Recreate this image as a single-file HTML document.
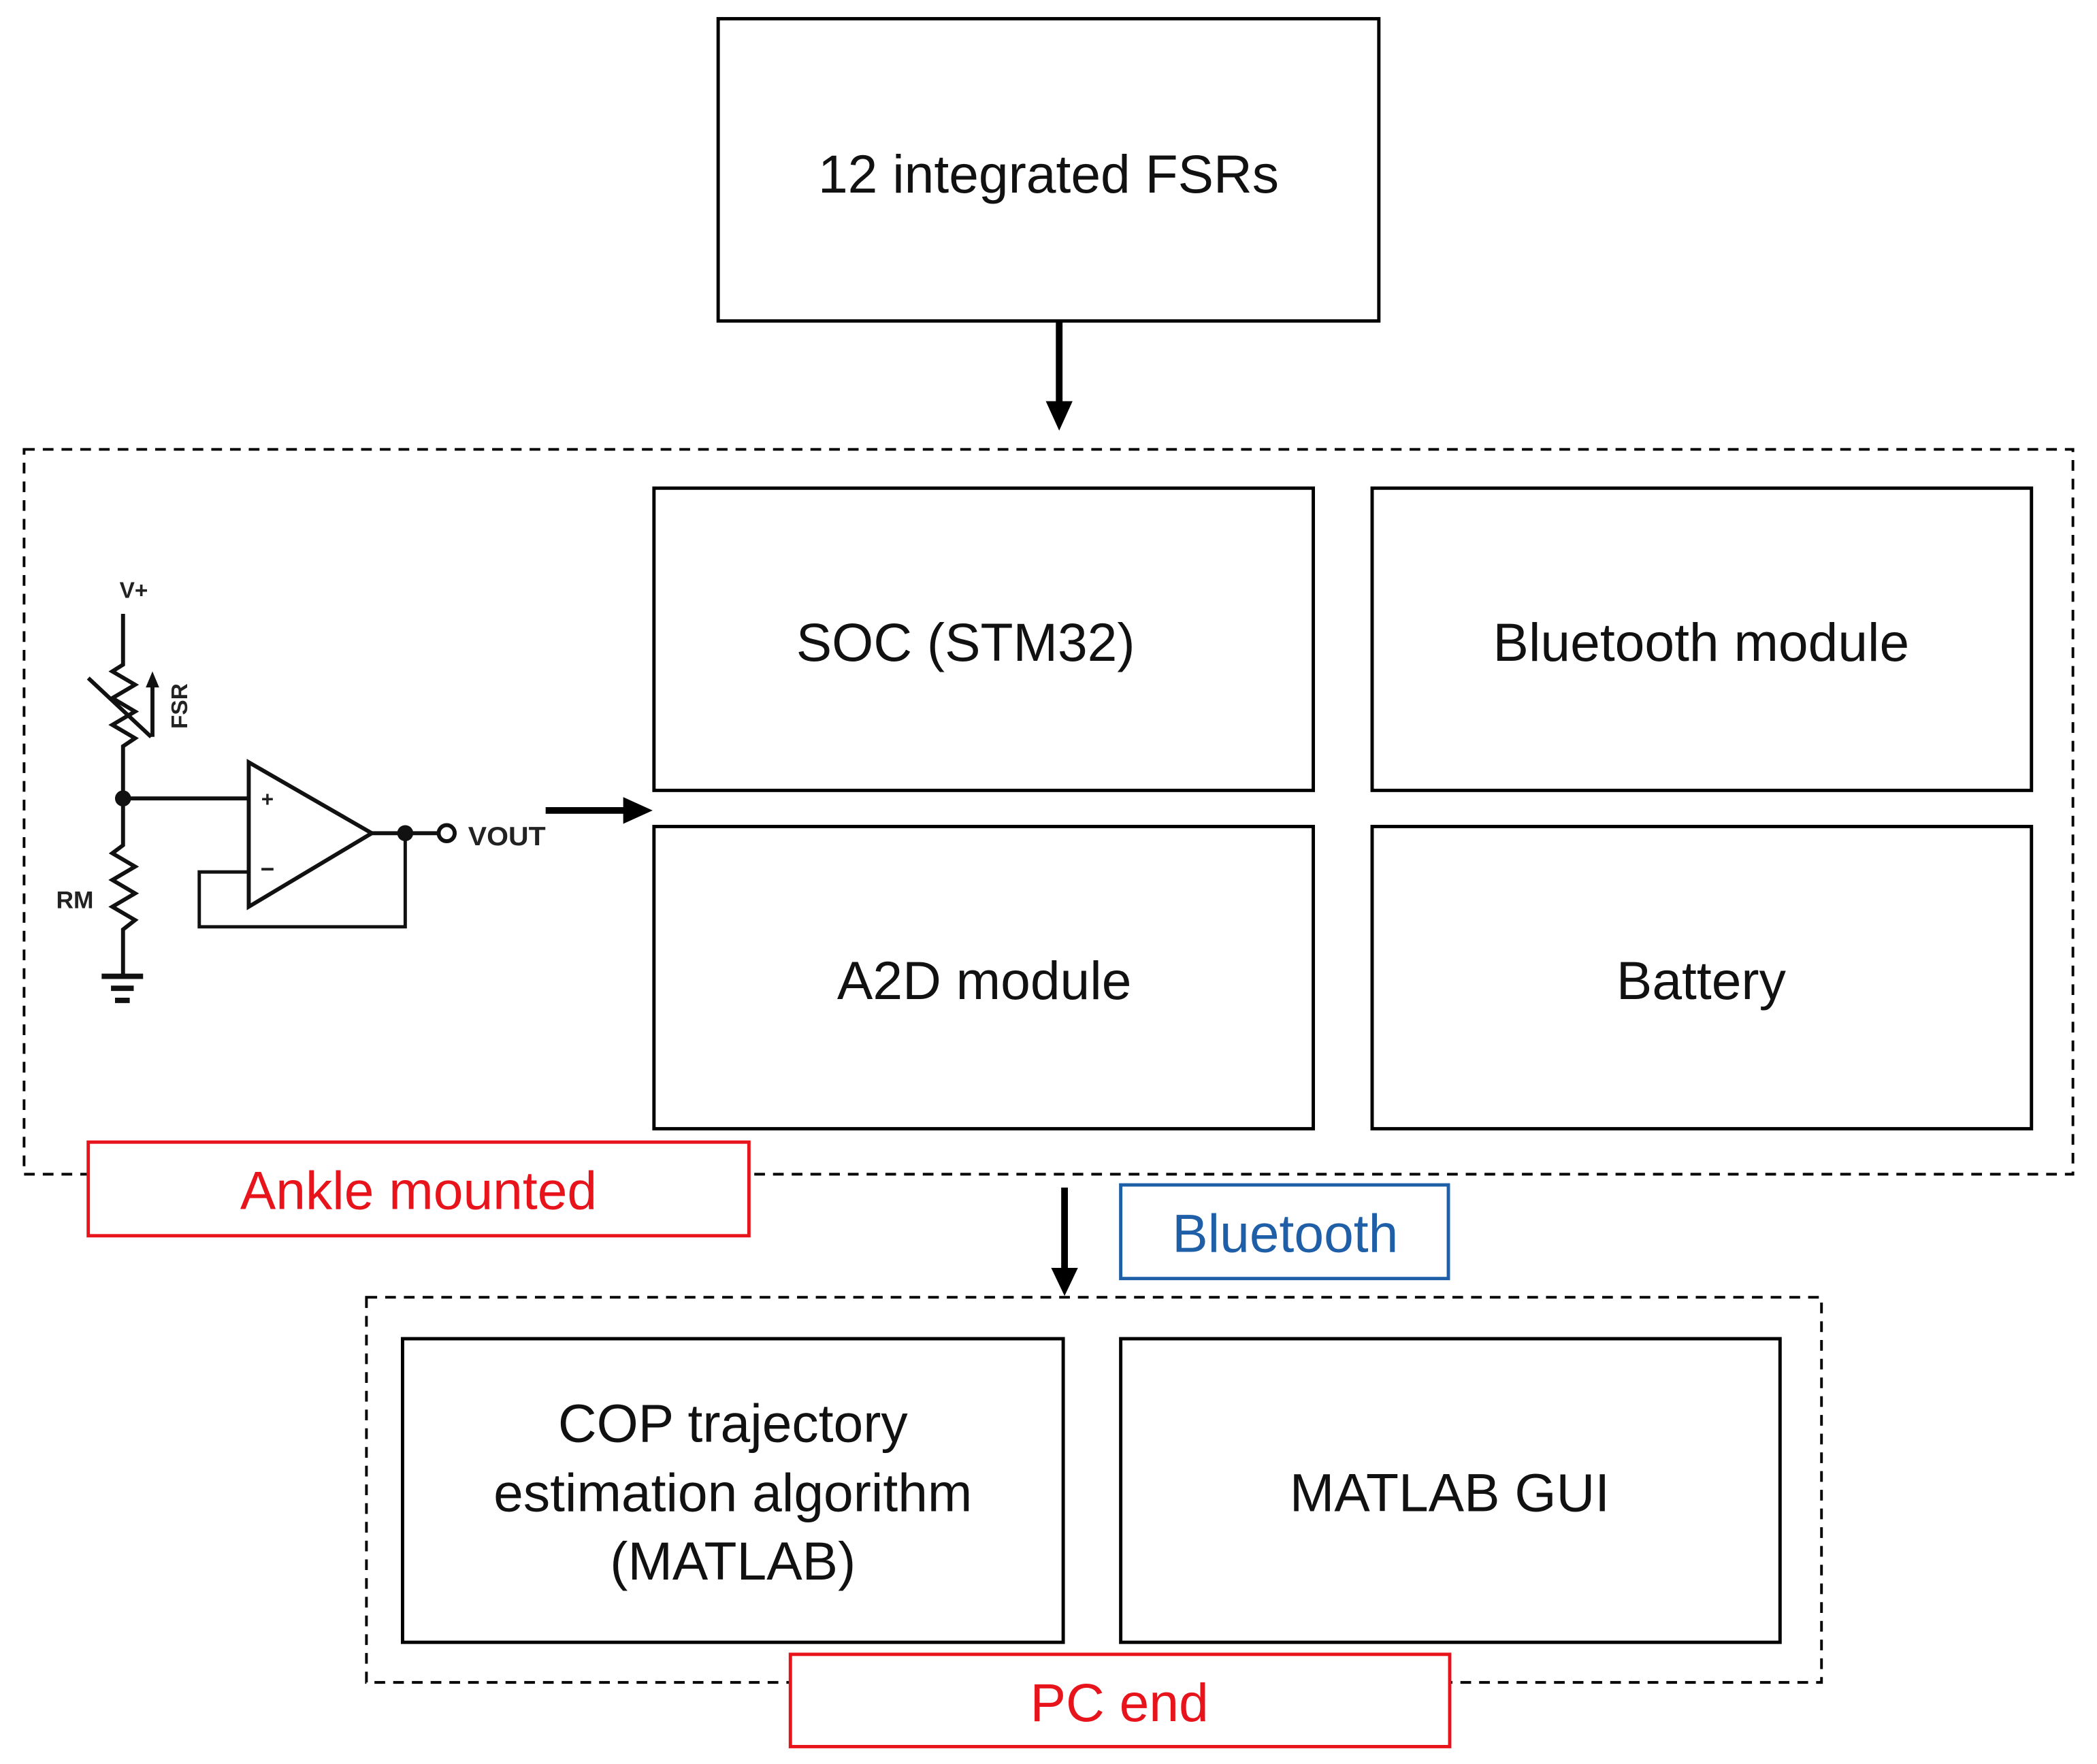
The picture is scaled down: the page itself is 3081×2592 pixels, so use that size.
<!DOCTYPE html>
<html><head><meta charset="utf-8"><style>
html,body{margin:0;padding:0;background:#fff;}
svg{display:block;}
text{font-family:"Liberation Sans","Noto Sans CJK SC",sans-serif;}
</style></head><body>
<svg width="3081" height="2592" viewBox="0 0 1568 1319" preserveAspectRatio="none" xmlns="http://www.w3.org/2000/svg">
<rect width="1568" height="1319" fill="#fff"/>
<g fill="none" stroke="#000" stroke-width="2.5">
<rect x="537" y="14" width="494" height="226"/>
<rect x="489" y="365" width="493" height="226"/>
<rect x="1026" y="365" width="493" height="226"/>
<rect x="489" y="618" width="493" height="226"/>
<rect x="1026" y="618" width="493" height="226"/>
<rect x="301" y="1001" width="494" height="227"/>
<rect x="838" y="1001" width="493" height="227"/>
</g>
<g fill="none" stroke="#000" stroke-width="2" stroke-dasharray="8 6">
<rect x="18" y="336" width="1532" height="542"/>
<rect x="274" y="970" width="1088" height="288"/>
</g>
<line x1="792" y1="240" x2="792" y2="302" stroke="#000" stroke-width="5"/>
<polygon points="782,300 802,300 792,322" fill="#000"/>
<line x1="796" y1="888" x2="796" y2="950" stroke="#000" stroke-width="5"/>
<polygon points="786,948 806,948 796,969" fill="#000"/>
<line x1="408" y1="606" x2="468" y2="606" stroke="#000" stroke-width="5"/>
<polygon points="466,596 466,616 488,606" fill="#000"/>
<rect x="66" y="854" width="494" height="70" fill="#fff" stroke="#e8141b" stroke-width="2.5"/>
<rect x="838" y="886" width="245" height="70" fill="#fff" stroke="#1f5fa8" stroke-width="2.5"/>
<rect x="591" y="1237" width="493" height="69" fill="#fff" stroke="#e8141b" stroke-width="2.5"/>
<g font-size="40" text-anchor="middle" fill="#111">
<text x="784" y="144">12 integrated FSRs</text>
<text x="722" y="494">SOC (STM32)</text>
<text x="1272" y="494">Bluetooth module</text>
<text x="736" y="747">A2D module</text>
<text x="1272" y="747">Battery</text>
<text x="548" y="1078">COP trajectory</text>
<text x="548" y="1130">estimation algorithm</text>
<text x="548" y="1181">(MATLAB)</text>
<text x="1084" y="1130">MATLAB GUI</text>
<text x="313" y="904" fill="#e8141b">Ankle mounted</text>
<text x="961" y="936" fill="#1f5fa8">Bluetooth</text>
<text x="837" y="1287" fill="#e8141b">PC end</text>
</g>
<g fill="none" stroke="#111" stroke-width="3" stroke-linejoin="miter">
<polyline points="92,459 92,497 84,502 101,512 84,522 101,532 84,542 101,552 92,558 92,632 84,638 101,648 84,658 101,668 84,678 101,688 92,695 92,730"/>
<line x1="76" y1="730" x2="107" y2="730" stroke-width="4"/>
<line x1="83" y1="739" x2="100" y2="739" stroke-width="4"/>
<line x1="86" y1="748" x2="97" y2="748" stroke-width="4"/>
<line x1="66" y1="507" x2="113" y2="551"/>
<line x1="114" y1="551" x2="114" y2="512"/>
<line x1="92" y1="597" x2="186" y2="597"/>
<polygon points="186,570 186,678 278,623"/>
<line x1="278" y1="623" x2="328" y2="623"/>
<polyline points="303,623 303,693 149,693 149,652 186,652" stroke-width="2.5"/>
<circle cx="334" cy="623" r="6"/>
</g>
<polygon points="109,514 119,514 114,502" fill="#111"/>
<circle cx="92" cy="597" r="6" fill="#111"/>
<circle cx="303" cy="623" r="6" fill="#111"/>
<g font-weight="bold" fill="#222">
<text x="100" y="447" font-size="17" text-anchor="middle">V+</text>
<text x="200" y="603" font-size="16" text-anchor="middle">+</text>
<text x="200" y="656" font-size="18" text-anchor="middle">−</text>
<text x="379" y="632" font-size="20" text-anchor="middle" textLength="58" lengthAdjust="spacingAndGlyphs">VOUT</text>
<text x="56" y="679" font-size="18" text-anchor="middle">RM</text>
<text transform="translate(140,528) rotate(-90)" font-size="17" text-anchor="middle">FSR</text>
</g>
</svg>
</body></html>
